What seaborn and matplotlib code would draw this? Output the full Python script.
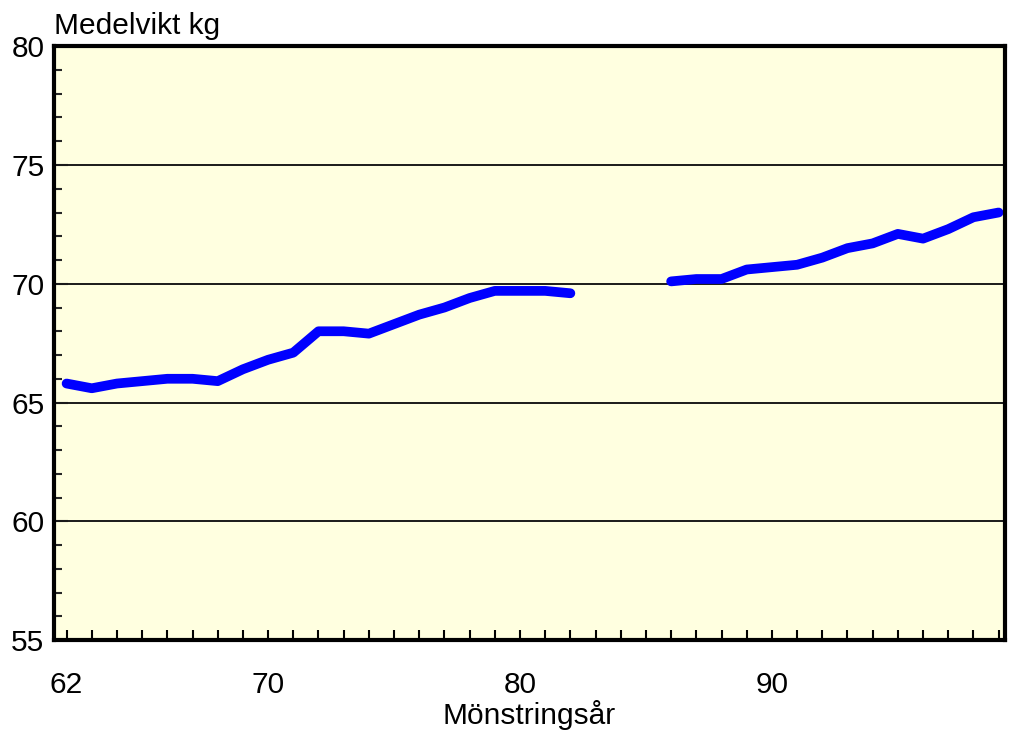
import numpy as np
import pandas as pd
import matplotlib
matplotlib.use("Agg")
import matplotlib.pyplot as plt
import seaborn as sns

# Average weight at conscription, by year (gap 83-85: no data)
years_a = [62, 63, 64, 65, 66, 67, 68, 69, 70, 71, 72, 73, 74, 75, 76, 77, 78, 79, 80, 81, 82]
weight_a = [65.8, 65.6, 65.8, 65.9, 66.0, 66.0, 65.9, 66.4, 66.8, 67.1, 68.0, 68.0, 67.9,
            68.3, 68.7, 69.0, 69.4, 69.7, 69.7, 69.7, 69.6]
years_b = [86, 87, 88, 89, 90, 91, 92, 93, 94, 95, 96, 97, 98, 99]
weight_b = [70.1, 70.2, 70.2, 70.6, 70.7, 70.8, 71.1, 71.5, 71.7, 72.1, 71.9, 72.3, 72.8, 73.0]

x_ticklabels = {62: "62", 70: "70", 80: "80", 90: "90"}

df = pd.DataFrame({
    "year": years_a + years_b,
    "weight": weight_a + weight_b,
    "period": ["a"] * len(years_a) + ["b"] * len(years_b),
})

sns.set_theme(style="white")
plt.rcParams["font.family"] = ["Liberation Sans", "DejaVu Sans"]

fig = plt.figure(figsize=(10.13, 7.34), dpi=100)
ax = fig.add_axes([0.0533, 0.128, 0.9387, 0.809])
ax.set_facecolor("#FFFFE0")

sns.lineplot(data=df, x="year", y="weight", units="period", estimator=None,
             color="#0000FF", linewidth=7, solid_capstyle="round", ax=ax)

ax.set_xlim(61.5, 99.25)
ax.set_ylim(55, 80)

# horizontal grid lines at major y ticks
for yv in [60, 65, 70, 75]:
    ax.axhline(yv, color="#1a1a1a", linewidth=1.4, zorder=1)

ax.set_yticks([55, 60, 65, 70, 75, 80])
ax.set_yticks(np.arange(55, 81, 1), minor=True)
ax.set_xticks(np.arange(62, 100, 1))
ax.set_xticklabels([x_ticklabels.get(int(v), "") for v in np.arange(62, 100, 1)])

ax.tick_params(axis="y", which="major", direction="in", length=10, width=1.5,
               labelsize=21.5, pad=7, colors="black", left=True)
ax.tick_params(axis="y", which="minor", direction="in", length=6, width=1.5, left=True)
ax.tick_params(axis="x", which="major", direction="in", length=7, width=1.5,
               labelsize=21.5, pad=22, colors="black", bottom=True)

for s in ax.spines.values():
    s.set_linewidth(3)
    s.set_color("black")

ax.set_xlabel("Mönstringsår", fontsize=21.5, labelpad=1, color="black")
ax.set_ylabel("")
ax.text(0.0, 1.02, "Medelvikt kg", transform=ax.transAxes, fontsize=21.5,
        ha="left", va="baseline", color="black")

fig.savefig("out.png", dpi=100)
